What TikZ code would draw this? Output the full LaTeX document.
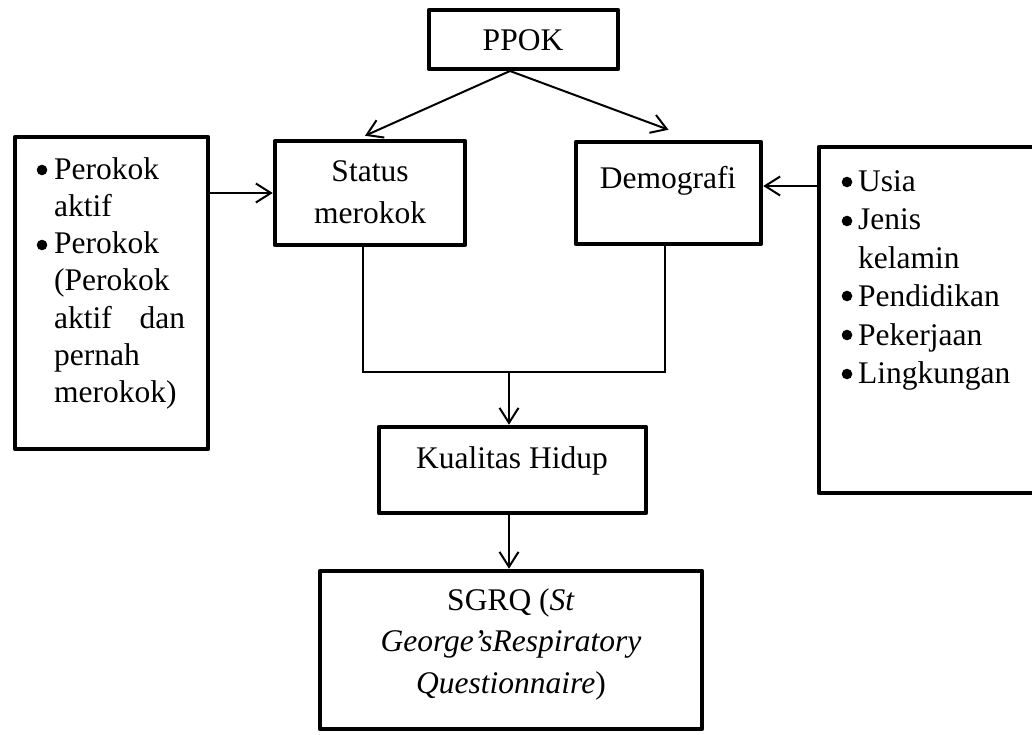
\documentclass[tikz,border=0pt]{standalone}
\usepackage{fontspec}
\setmainfont{Liberation Serif}
\usetikzlibrary{arrows.meta}
\tikzset{
  box/.style={draw, line width=4.5pt, line join=round, inner sep=0pt},
  lbl/.style={inner sep=0pt, font=\fontsize{31.5}{41.5}\selectfont, align=center},
  lst/.style={inner sep=0pt, anchor=north west, align=left},
  arr/.style={line width=2pt, -{Straight Barb[length=15pt,width=19pt]}},
  link/.style={line width=1.4pt}
}
\begin{document}
\begin{tikzpicture}[x=1pt, y=-1pt]
  \useasboundingbox (0, 0) rectangle (1032, 734);
  % boxes
  \node[box, minimum width=189pt, minimum height=59pt] (ppok) at (523.5, 39.5) {};
  \node[box, minimum width=190pt, minimum height=104pt] (status) at (370, 193) {};
  \node[box, minimum width=185pt, minimum height=102pt] (demo) at (668.5, 193) {};
  \node[box, minimum width=193pt, minimum height=312pt] (smoke) at (111.5, 293) {};
  \node[box, minimum width=224pt, minimum height=346pt] (factors) at (931, 320) {};
  \node[box, minimum width=267pt, minimum height=86pt] (kual) at (512.5, 470) {};
  \node[box, minimum width=382pt, minimum height=158pt] (sgrq) at (511, 650) {};
  % labels
  \node[lbl, anchor=base] (ppokt) at (523, 50) {PPOK};
  \node[lbl, anchor=north] (statust) at (370, 160.5) {Status\\merokok};
  \node[lbl, anchor=base] (demot) at (668, 188) {Demografi};
  \node[lbl, anchor=base] (kualt) at (512, 468) {Kualitas Hidup};
  \node[lbl, anchor=north] (sgrqt) at (511, 588) {SGRQ (\textit{St}\\\textit{George’sRespiratory}\\\textit{Questionnaire})};
  \node[lst, font=\fontsize{31.5}{37.3}\selectfont] (smoket) at (54, 157)
    {Perokok\\aktif\\Perokok\\(Perokok\\\makebox[131pt][s]{aktif dan}\\pernah\\merokok)};
  \node[lst, font=\fontsize{31.5}{38.5}\selectfont] (factorst) at (858, 170)
    {Usia\\Jenis\\kelamin\\Pendidikan\\Pekerjaan\\Lingkungan};
  \foreach \y in {170, 245} \fill (42, \y) circle (5.3);
  \foreach \y in {182, 221, 296, 335, 374} \fill (847, \y) circle (5.3);
  % connectors
  \coordinate (fork) at (510, 71);
  \coordinate (join) at (509, 372);
  \draw[arr] (fork) -- ([xshift=-5pt, yshift=3pt]status.north);
  \draw[arr] (fork) -- ([yshift=10pt]demo.north);
  \draw[arr] (smoke.east |- status.west) -- (status.west);
  \draw[arr] (factors.west |- 0, 186) -- ([yshift=7pt]demo.east);
  \draw[link] ([xshift=-7pt]status.south) |- (join) -| ([xshift=-3.5pt]demo.south);
  \draw[arr] (join) -- (join |- kual.north);
  \draw[arr] (kual.south -| join) -- (sgrq.north -| join);
\end{tikzpicture}
\end{document}
